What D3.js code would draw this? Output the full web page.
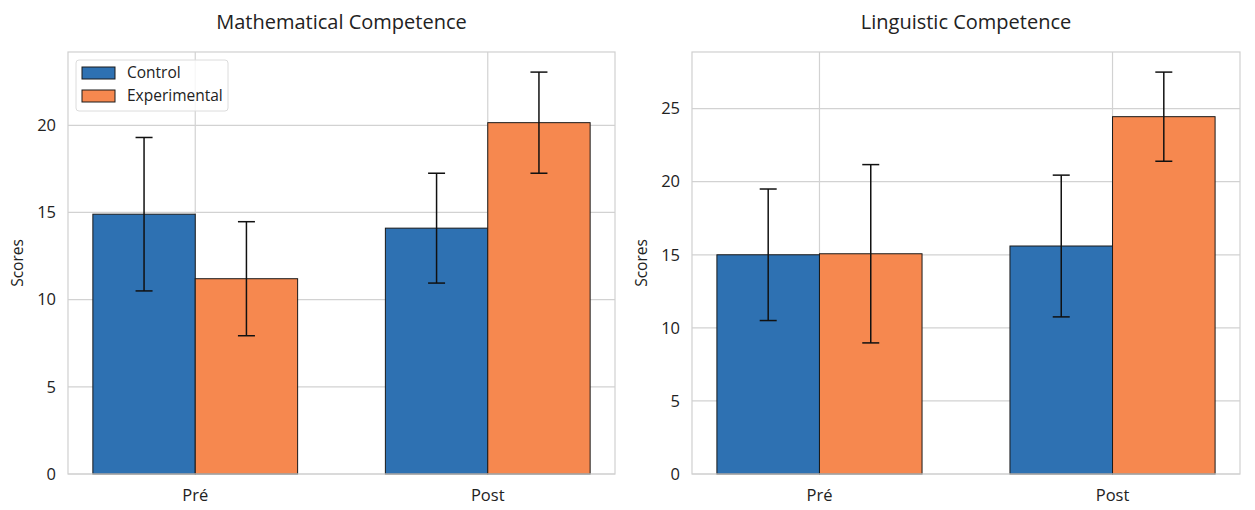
<!DOCTYPE html>
<html>
<head>
<meta charset="utf-8">
<script src="https://cdn.jsdelivr.net/npm/d3@7"></script>
<style>
  body { margin: 0; background: #fff; }
  svg text { font-family: "Open Sans", Roboto, sans-serif; fill: #222; }
</style>
</head>
<body>
<svg id="chart" width="1255" height="510"></svg>
<script>
const phases = ["Pré", "Post"]
const groups = ["Control", "Experimental"]
const groupColors = ["#2e71b2", "#f6884f"]

// means and standard deviations, one row per group, columns follow phases
const mathMeans = [[14.9, 14.1], [11.2, 20.15]]
const mathSd = [[4.4, 3.15], [3.27, 2.9]]
const lingMeans = [[15.0, 15.6], [15.07, 24.45]]
const lingSd = [[4.5, 4.85], [6.1, 3.05]]

const mathTicks = [0, 5, 10, 15, 20]
const lingTicks = [0, 5, 10, 15, 20, 25]

const svg = d3.select("#chart")

const drawPanel = (panel) => {
  const {left, right, top, bottom, title, means, sds, ticks, legend} = panel
  const g = svg.append("g")

  // matplotlib style: bars at -0.35..1.35 with 5% margins
  const xScale = d3.scaleLinear()
    .domain([-0.435, 1.435])
    .range([left, right])
  const yMax = d3.max(means.flatMap((row, i) => row.map((m, j) => m + sds[i][j]))) * 1.05
  const yScale = d3.scaleLinear()
    .domain([0, yMax])
    .range([bottom, top])
  const barW = 0.35

  // grid
  g.selectAll(".hgrid")
    .data(ticks)
    .enter()
    .append("line")
    .attr("x1", left).attr("x2", right)
    .attr("y1", d => yScale(d)).attr("y2", d => yScale(d))
    .attr("stroke", "#d2d2d2").attr("stroke-width", 1.2)
  g.selectAll(".vgrid")
    .data(phases)
    .enter()
    .append("line")
    .attr("x1", (d, i) => xScale(i)).attr("x2", (d, i) => xScale(i))
    .attr("y1", top).attr("y2", bottom)
    .attr("stroke", "#d2d2d2").attr("stroke-width", 1.2)

  // bars
  groups.forEach((grp, gi) => {
    const offset = gi === 0 ? -barW : 0
    g.selectAll(`.bar${gi}`)
      .data(means[gi])
      .enter()
      .append("rect")
      .attr("x", (d, i) => xScale(i + offset))
      .attr("width", xScale(barW) - xScale(0))
      .attr("y", d => yScale(d))
      .attr("height", d => yScale(0) - yScale(d))
      .attr("fill", groupColors[gi])
      .attr("stroke", "#1a1a1a")
      .attr("stroke-width", 1)
  })

  // error bars
  groups.forEach((grp, gi) => {
    const offset = gi === 0 ? -barW / 2 : barW / 2
    means[gi].forEach((m, i) => {
      const cx = xScale(i + offset)
      const lo = yScale(m - sds[gi][i])
      const hi = yScale(m + sds[gi][i])
      g.append("line")
        .attr("x1", cx).attr("x2", cx).attr("y1", lo).attr("y2", hi)
        .attr("stroke", "#111").attr("stroke-width", 1.5)
      ;[lo, hi].forEach(y => {
        g.append("line")
          .attr("x1", cx - 8.5).attr("x2", cx + 8.5).attr("y1", y).attr("y2", y)
          .attr("stroke", "#111").attr("stroke-width", 1.5)
      })
    })
  })

  // frame
  g.append("rect")
    .attr("x", left).attr("y", top)
    .attr("width", right - left).attr("height", bottom - top)
    .attr("fill", "none").attr("stroke", "#d0d0d0").attr("stroke-width", 1.2)

  // tick labels
  g.selectAll(".ytick")
    .data(ticks)
    .enter()
    .append("text")
    .attr("x", left - 12)
    .attr("y", d => yScale(d))
    .attr("dy", "0.35em")
    .attr("text-anchor", "end")
    .style("font-size", "16.5px")
    .text(d => d)
  g.selectAll(".xtick")
    .data(phases)
    .enter()
    .append("text")
    .attr("x", (d, i) => xScale(i))
    .attr("y", bottom + 27)
    .attr("text-anchor", "middle")
    .style("font-size", "16.5px")
    .text(d => d)

  // y label
  g.append("text")
    .attr("transform", `translate(${left - 45}, ${(top + bottom) / 2}) rotate(-90)`)
    .attr("text-anchor", "middle")
    .style("font-size", "15.5px")
    .text("Scores")

  // title
  g.append("text")
    .attr("x", (left + right) / 2)
    .attr("y", 29)
    .attr("text-anchor", "middle")
    .style("font-size", "20px")
    .text(title)

  if (legend) {
    const lg = g.append("g").attr("transform", `translate(${left + 8}, ${top + 8})`)
    lg.append("rect")
      .attr("width", 152).attr("height", 51).attr("rx", 3)
      .attr("fill", "#fff").attr("fill-opacity", 0.8)
      .attr("stroke", "#dcdcdc")
    groups.forEach((grp, gi) => {
      lg.append("rect")
        .attr("x", 6).attr("y", 7 + gi * 23)
        .attr("width", 33).attr("height", 12)
        .attr("fill", groupColors[gi]).attr("stroke", "#1a1a1a")
      lg.append("text")
        .attr("x", 51).attr("y", 13 + gi * 23)
        .attr("dy", "0.35em")
        .style("font-size", "15.5px")
        .text(grp)
    })
  }
}

drawPanel({left: 68, right: 615, top: 52, bottom: 474,
  title: "Mathematical Competence", means: mathMeans, sds: mathSd, ticks: mathTicks, legend: true})
drawPanel({left: 692, right: 1240, top: 52, bottom: 474,
  title: "Linguistic Competence", means: lingMeans, sds: lingSd, ticks: lingTicks, legend: false})
</script>
</body>
</html>
